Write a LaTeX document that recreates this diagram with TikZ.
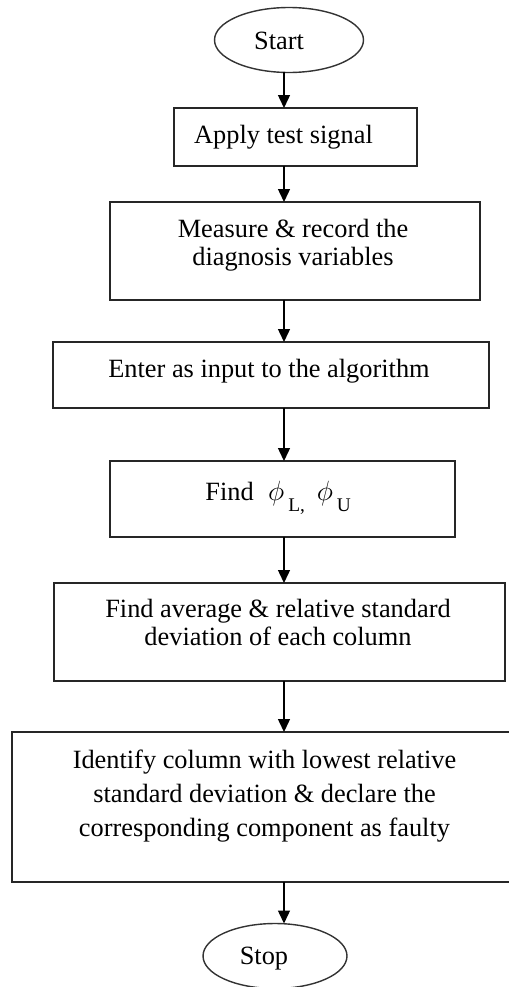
\documentclass[tikz,border=0pt]{standalone}
\usepackage{amsmath}
\usepackage{fontspec}
\setmainfont{Liberation Serif}
\usetikzlibrary{shapes.geometric}
\usetikzlibrary{arrows.meta}
\tikzset{%
    terminal/.style={inner sep=0pt,outer sep=0pt,shape=ellipse,draw=black!80,line width=0.8pt},
    body/.style={inner sep=0pt,outer sep=0pt,shape=rectangle,draw=black!85,line width=1.1pt},
    caption/.style={inner sep=0pt,align=center,font=\fontsize{15pt}{15.9pt}\selectfont},
    flow/.style={-{Triangle[length=2.6mm,width=2.4mm]},line width=0.8pt},
}
\newcommand{\subtext}[1]{\hspace{0.15em}\raisebox{-0.45em}{\fontsize{11pt}{11pt}\selectfont #1}}
\newcommand{\bigphi}{\scalebox{1.1}{$\phi$}}

\begin{document}
\begin{tikzpicture}[x=0.02cm,y=-0.02cm]
        \useasboundingbox (0,0) rectangle (508,987);
        \coordinate (spine) at (284,0);

        % frames of the steps
        \node [terminal,minimum width=2.98cm,minimum height=1.3cm] (start) at (289,40) {};
        \node [body,minimum width=4.86cm,minimum height=1.16cm] (apply) at (295.5,137) {};
        \node [body,minimum width=7.4cm,minimum height=1.96cm] (measure) at (295,251) {};
        \node [body,minimum width=8.72cm,minimum height=1.32cm] (enter) at (271,375) {};
        \node [body,minimum width=6.9cm,minimum height=1.52cm] (find) at (282.5,499) {};
        \node [body,minimum width=9.02cm,minimum height=1.96cm] (average) at (279.5,632) {};
        \node [body,minimum width=10.08cm,minimum height=3cm] (identify) at (264,807) {};
        \node [terminal,minimum width=2.88cm,minimum height=1.3cm] (stop) at (275,956) {};

        % texts
        \node [caption,anchor=base] (startText) at (279,50) {Start};
        \node [caption,anchor=base] (applyText) at (283.5,143) {Apply test signal};
        \node [caption] (measureText) at (293,245) {Measure \& record the\\diagnosis variables};
        \node [caption,anchor=base] (enterText) at (269,377) {Enter as input to the algorithm};
        \node [caption,anchor=base west] (findText) at (205,500) {Find\hspace{0.55em}\bigphi\subtext{L,}\hspace{0.45em}\bigphi\subtext{U}};
        \node [caption] (averageText) at (278,622.5) {Find average \& relative standard\\deviation of each column};
        \node [caption,font=\fontsize{15pt}{19.3pt}\selectfont] (identifyText) at (264.5,796) {Identify column with lowest relative\\standard deviation \& declare the\\corresponding component as faulty};
        \node [caption,anchor=base] (stopText) at (264,964) {Stop};

        % arrows down the middle
        \draw [flow] (start.south -| spine) -- (apply.north -| spine);
        \draw [flow] (apply.south -| spine) -- (measure.north -| spine);
        \draw [flow] (measure.south -| spine) -- (enter.north -| spine);
        \draw [flow] (enter.south -| spine) -- (find.north -| spine);
        \draw [flow] (find.south -| spine) -- (average.north -| spine);
        \draw [flow] (average.south -| spine) -- (identify.north -| spine);
        \draw [flow] (identify.south -| spine) -- (stop.north -| spine);
    \end{tikzpicture}
\end{document}
